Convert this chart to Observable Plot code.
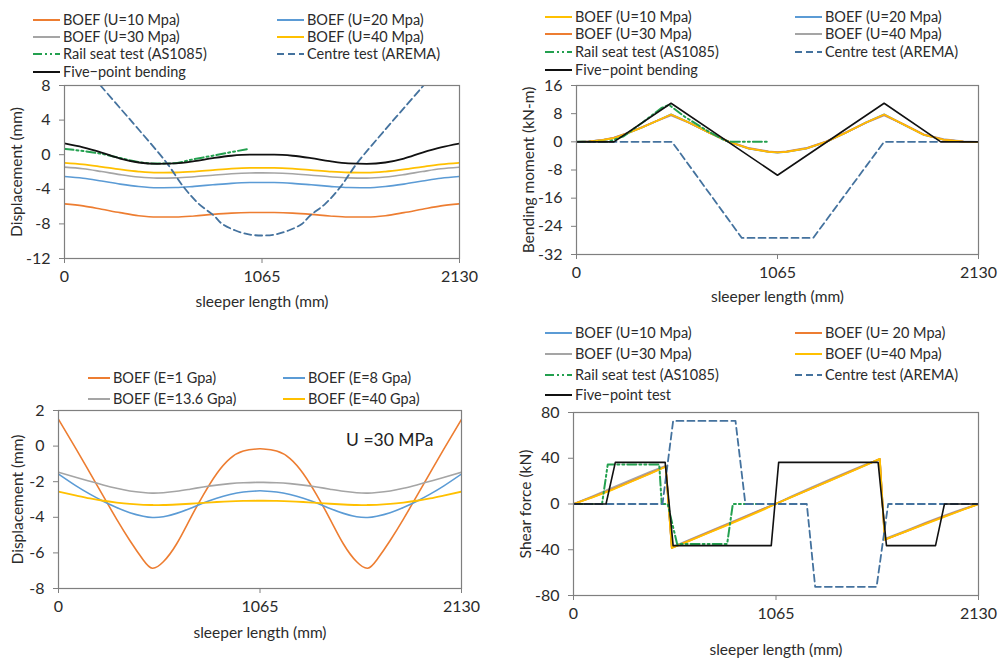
<!DOCTYPE html>
<html>
<head>
<meta charset="utf-8">
<script src="https://cdn.jsdelivr.net/npm/d3@7"></script>
<script src="https://cdn.jsdelivr.net/npm/@observablehq/plot@0.6"></script>
<style>
  html, body { margin: 0; padding: 0; background: #fff; }
  #root { position: relative; width: 998px; height: 659px; overflow: hidden; background: #fff; font-family: Lato, "Open Sans", sans-serif; }
  #root > svg, #root > figure { position: absolute; margin: 0; }
  .leg { position: absolute; display: flex; align-items: center; font-size: 14.5px; color: #2b2b2b; white-space: nowrap; line-height: 1; }
  .leg svg { display: block; margin-right: 3px; }
</style>
</head>
<body>
<div id="root"></div>
<script>
// ---------------- DATA ----------------
const xTicks = [0, 1065, 2130];
const xLabel = "sleeper length (mm)";

// Panel A: displacement
const aTicksY = [-12, -8, -4, 0, 4, 8];
const aX = [0,100,200,300,400,500,600,700,800,900,1000,1065,1130,1230,1330,1430,1530,1630,1730,1830,1930,2030,2130];
const aU10 = [-5.68,-5.92,-6.3,-6.7,-7.05,-7.2,-7.2,-7.08,-6.9,-6.76,-6.69,-6.68,-6.69,-6.76,-6.9,-7.08,-7.2,-7.2,-7.05,-6.7,-6.3,-5.92,-5.68];
const aU20 = [-2.52,-2.72,-3.05,-3.4,-3.68,-3.82,-3.8,-3.66,-3.48,-3.31,-3.22,-3.21,-3.22,-3.31,-3.48,-3.66,-3.8,-3.82,-3.68,-3.4,-3.05,-2.72,-2.52];
const aU30 = [-1.44,-1.63,-1.95,-2.3,-2.58,-2.71,-2.68,-2.55,-2.37,-2.2,-2.11,-2.1,-2.11,-2.2,-2.37,-2.55,-2.68,-2.71,-2.58,-2.3,-1.95,-1.63,-1.44];
const aU40 = [-0.94,-1.12,-1.4,-1.7,-1.95,-2.08,-2.06,-1.95,-1.78,-1.62,-1.53,-1.52,-1.53,-1.62,-1.78,-1.95,-2.06,-2.08,-1.95,-1.7,-1.4,-1.12,-0.94];
const aFive = [1.3,0.85,0.25,-0.45,-0.9,-1.05,-1.0,-0.75,-0.4,-0.12,0,0,0,-0.12,-0.4,-0.75,-1.0,-1.05,-0.9,-0.45,0.25,0.85,1.3];
const aRailX = [0,100,200,300,400,500,580,700,800,900,994];
const aRailY = [0.68,0.42,0.1,-0.38,-0.85,-1.03,-1.0,-0.51,-0.11,0.3,0.68];
const aCentreX = [194,300,400,553,643,724,805,850,922,994,1065,1136,1208,1280,1325,1406,1487,1577,1730,1830,1936];
const aCentreY = [8,5.38,2.91,-1.0,-3.75,-5.68,-7.03,-8.0,-8.76,-9.22,-9.34,-9.22,-8.76,-8.0,-7.03,-5.68,-3.75,-1.0,2.91,5.38,8];

// Panel B: bending moment
const bTicksY = [-32, -24, -16, -8, 0, 8, 16];
const bBoefX = [0,66,137,198,260,348,436,501,595,700,806,912,1017,1065,1113,1218,1324,1430,1535,1630,1733,1839,1944,2050,2130];
const bU10 = [0,0.1,0.48,1.05,2.19,4.1,6.19,7.8,5.52,2.67,0,-1.9,-2.86,-3.05,-2.86,-1.9,0,2.67,5.52,7.8,4.9,2.0,0.6,0.05,0];
const bU20 = [0,0.1,0.48,1.05,2.19,4.1,6.19,7.8,5.52,2.67,0,-1.9,-2.86,-3.05,-2.86,-1.9,0,2.67,5.52,7.8,4.9,2.0,0.6,0.05,0];
const bU30 = [0,0.1,0.5,1.1,2.25,4.15,6.2,7.7,5.5,2.7,0.05,-1.85,-2.8,-3.0,-2.8,-1.85,0.05,2.7,5.5,7.7,4.95,2.05,0.65,0.08,0];
const bU40 = [0,0.12,0.55,1.2,2.35,4.2,6.15,7.5,5.45,2.75,0.15,-1.75,-2.7,-2.9,-2.7,-1.75,0.15,2.75,5.45,7.5,5.0,2.15,0.75,0.12,0];
const bFiveX = [0,198,501,1065,1630,1930,2130];
const bFiveY = [0,0,10.95,-9.5,10.95,0,0];
const bRailX = [0,170,250,350,450,490,577,700,790,825,1008];
const bRailY = [0,0,1.6,5.5,9.6,10.5,7.0,2.9,0.3,0,0];
const bCentreX = [0,506,876,1254,1630,1926];
const bCentreY = [0,0,-27.3,-27.3,0,0];

// Panel C: displacement vs elastic modulus (U = 30 MPa)
const cTicksY = [-8, -6, -4, -2, 0, 2];
const cX = [0,95,166,236,307,377,448,496,554,624,695,765,836,906,977,1047,1065,1083,1153,1224,1294,1365,1435,1506,1576,1634,1682,1753,1823,1894,1964,2035,2130];
const cE1 = [1.5,-0.2,-1.5,-2.8,-4.1,-5.3,-6.4,-6.86,-6.5,-5.5,-4.1,-2.75,-1.55,-0.7,-0.28,-0.16,-0.15,-0.16,-0.28,-0.7,-1.55,-2.75,-4.1,-5.5,-6.5,-6.86,-6.4,-5.3,-4.1,-2.8,-1.5,-0.2,1.5];
const cE8 = [-1.57,-2.25,-2.7,-3.1,-3.45,-3.74,-3.94,-4.01,-3.97,-3.78,-3.5,-3.2,-2.93,-2.72,-2.58,-2.52,-2.51,-2.52,-2.58,-2.72,-2.93,-3.2,-3.5,-3.78,-3.97,-4.01,-3.94,-3.74,-3.45,-3.1,-2.7,-2.25,-1.57];
const cE136 = [-1.47,-1.76,-1.98,-2.18,-2.37,-2.52,-2.61,-2.64,-2.62,-2.54,-2.42,-2.3,-2.19,-2.11,-2.06,-2.04,-2.04,-2.04,-2.06,-2.11,-2.19,-2.3,-2.42,-2.54,-2.62,-2.64,-2.61,-2.52,-2.37,-2.18,-1.98,-1.76,-1.47];
const cE40 = [-2.56,-2.78,-2.94,-3.07,-3.17,-3.25,-3.3,-3.31,-3.31,-3.28,-3.24,-3.19,-3.14,-3.1,-3.08,-3.07,-3.07,-3.07,-3.08,-3.1,-3.14,-3.19,-3.24,-3.28,-3.31,-3.31,-3.3,-3.25,-3.17,-3.07,-2.94,-2.78,-2.56];
const cNote = "U =30 MPa";

// Panel D: shear force
const dTicksY = [-80, -40, 0, 40, 80];
const dBoefX = [0,100,200,300,400,485,517,600,700,800,900,1000,1062,1150,1250,1350,1450,1550,1611,1637,1750,1850,1950,2050,2130];
const dU10 = [0,6.3,13.0,20.0,27.0,33.0,-38.2,-32.4,-25.4,-18.4,-11.3,-4.2,0,6.5,13.7,20.9,28.1,35.2,39.2,-31.0,-23.7,-17.0,-10.6,-4.6,0];
const dU20 = [0,6.0,12.6,19.6,26.6,32.8,-38.5,-32.7,-25.7,-18.7,-11.6,-4.4,0,6.3,13.5,20.7,27.9,35.0,39.4,-31.1,-23.9,-17.2,-10.8,-4.8,0];
const dU30 = [0,6.8,14.0,21.0,27.8,33.4,-37.8,-32.0,-25.0,-18.0,-11.0,-4.0,0,7.0,14.3,21.5,28.6,35.6,38.9,-30.5,-23.2,-16.5,-10.2,-4.3,0];
const dU40 = [0,5.8,12.2,19.2,26.2,32.6,-38.5,-32.9,-26.0,-19.1,-12.1,-4.9,0,6.2,13.3,20.4,27.5,34.9,39.4,-31.1,-24.0,-17.6,-11.2,-5.0,0];
const dFiveX = [0,171,220,482,524,1040,1079,1602,1646,1904,1951,2130];
const dFiveY = [0,0,36.4,36.4,-36.4,-36.4,36.4,36.4,-36.4,-36.4,0,0];
const dRailX = [0,150,180,451,464,495,545,808,838,1000];
const dRailY = [0,0,34.5,34.5,0,0,-35,-35,0,0];
const dCentreX = [0,468,524,852,904,1227,1271,1594,1655,2130];
const dCentreY = [0,0,72.6,72.6,0,0,-72.4,-72.4,0,0];

// ---------------- STYLE ----------------
const C = {orange:"#ED7D31", blue:"#5B9BD5", gray:"#A5A5A5", yellow:"#FFC000", green:"#23A04F", dashBlue:"#44729E", black:"#111"};
const DASH = {rail:"9,3,2,3,2,3", centre:"7,4"};
const FONT = "Lato, 'Open Sans', sans-serif";
const root = document.getElementById("root");

const zip = (xs, ys) => xs.map((x, i) => ({x, y: ys[i]}));
const fmt = d => String(d);

function line(xs, ys, stroke, opts = {}) {
  return Plot.line(zip(xs, ys), {x: "x", y: "y", stroke, strokeWidth: opts.w ?? 1.8, strokeDasharray: opts.dash, curve: opts.curve ?? "linear", strokeLinejoin: "round", clip: true});
}

function panel({left, top, frame, ydomain, yticks, ylabel, marks, xLabelOffset, yLabelOffset}) {
  const [fl, fr, ft, fb] = frame;
  const marginLeft = fl - left, marginTop = ft - top, marginRight = 20, marginBottom = 64;
  const chart = Plot.plot({
    width: marginLeft + (fr - fl) + marginRight,
    height: marginTop + (fb - ft) + marginBottom,
    marginLeft, marginTop, marginRight, marginBottom,
    style: {fontFamily: FONT, fontSize: "15.5px", color: "#2b2b2b", background: "transparent", overflow: "visible"},
    x: {domain: [0, 2130]},
    y: {domain: ydomain},
    marks: [
      ...marks,
      Plot.frame({stroke: "#7f7f7f", strokeWidth: 1.2}),
      Plot.axisX({ticks: xTicks, tickFormat: fmt, tickSize: 5, tickPadding: 7, stroke: "#7f7f7f", fontSize: 16, label: null}),
      Plot.axisX({ticks: [], label: xLabel, labelAnchor: "center", labelArrow: "none", labelOffset: xLabelOffset, fontSize: 15.5}),
      Plot.axisY({ticks: yticks, tickFormat: fmt, tickSize: 5, tickPadding: 9, stroke: "#7f7f7f", fontSize: 16, label: null}),
      Plot.axisY({ticks: [], label: ylabel, labelAnchor: "center", labelArrow: "none", labelOffset: yLabelOffset, fontSize: 15.5})
    ]
  });
  chart.style.left = left + "px";
  chart.style.top = top + "px";
  chart.style.position = "absolute";
  root.appendChild(chart);
}

function legend(items) {
  for (const it of items) {
    const d = document.createElement("div");
    d.className = "leg";
    d.style.left = it.x + "px";
    d.style.top = (it.y - 9) + "px";
    d.style.height = "18px";
    const w = it.sw ?? 27;
    d.innerHTML = `<svg width="${w}" height="10"><line x1="0" x2="${w}" y1="5" y2="5" stroke="${it.color}" stroke-width="2" ${it.dash ? `stroke-dasharray="${it.dash}"` : ""}/></svg><span>${it.label}</span>`;
    root.appendChild(d);
  }
}

// ---------------- PANEL A ----------------
panel({
  left: 0, top: 78, frame: [64, 459, 85, 258], ydomain: [-12, 8], yticks: aTicksY,
  ylabel: "Displacement (mm)", xLabelOffset: 48, yLabelOffset: 54,
  marks: [
    line(aX, aU10, C.orange, {curve: "monotone-x", w: 1.6}),
    line(aX, aU20, C.blue, {curve: "monotone-x", w: 1.6}),
    line(aX, aU30, C.gray, {curve: "monotone-x", w: 1.6}),
    line(aX, aU40, C.yellow, {curve: "monotone-x", w: 1.8}),
    line(aRailX, aRailY, C.green, {curve: "monotone-x", w: 2, dash: DASH.rail}),
    line(aCentreX, aCentreY, C.dashBlue, {curve: "catmull-rom", w: 1.8, dash: DASH.centre}),
    line(aX, aFive, C.black, {curve: "monotone-x", w: 1.8})
  ]
});
legend([
  {x: 33, y: 20, color: C.orange, label: "BOEF (U=10 Mpa)"},
  {x: 277, y: 20, color: C.blue, label: "BOEF (U=20 Mpa)"},
  {x: 33, y: 37, color: C.gray, label: "BOEF (U=30 Mpa)"},
  {x: 277, y: 37, color: C.yellow, label: "BOEF (U=40 Mpa)"},
  {x: 33, y: 54, color: C.green, label: "Rail seat test (AS1085)", dash: DASH.rail},
  {x: 277, y: 54, color: C.dashBlue, label: "Centre test (AREMA)", dash: DASH.centre},
  {x: 33, y: 72, color: C.black, label: "Five−point bending"}
]);

// ---------------- PANEL B ----------------
panel({
  left: 500, top: 78, frame: [576, 978, 85, 254], ydomain: [-32, 16], yticks: bTicksY,
  ylabel: "Bending moment (kN-m)", xLabelOffset: 47, yLabelOffset: 54,
  marks: [
    line(bBoefX, bU20, C.blue, {w: 1.8}),
    line(bBoefX, bU40, C.gray, {w: 1.8}),
    line(bBoefX, bU30, C.orange, {w: 1.8}),
    line(bBoefX, bU10, C.yellow, {w: 1.6}),
    line(bRailX, bRailY, C.green, {w: 2, dash: DASH.rail}),
    line(bCentreX, bCentreY, C.dashBlue, {w: 1.8, dash: DASH.centre}),
    line(bFiveX, bFiveY, C.black, {w: 1.6})
  ]
});
legend([
  {x: 545, y: 17, color: C.yellow, label: "BOEF (U=10 Mpa)"},
  {x: 795, y: 17, color: C.blue, label: "BOEF (U=20 Mpa)"},
  {x: 545, y: 34, color: C.orange, label: "BOEF (U=30 Mpa)"},
  {x: 795, y: 34, color: C.gray, label: "BOEF (U=40 Mpa)"},
  {x: 545, y: 52, color: C.green, label: "Rail seat test (AS1085)", dash: DASH.rail},
  {x: 795, y: 52, color: C.dashBlue, label: "Centre test (AREMA)", dash: DASH.centre},
  {x: 545, y: 70, color: C.black, label: "Five−point bending"}
]);

// ---------------- PANEL C ----------------
panel({
  left: 0, top: 402, frame: [58, 461, 410, 588], ydomain: [-8, 2], yticks: cTicksY,
  ylabel: "Displacement (mm)", xLabelOffset: 49, yLabelOffset: 47,
  marks: [
    line(cX, cE1, C.orange, {curve: "natural", w: 1.6}),
    line(cX, cE8, C.blue, {curve: "natural", w: 1.6}),
    line(cX, cE136, C.gray, {curve: "natural", w: 1.6}),
    line(cX, cE40, C.yellow, {curve: "natural", w: 1.8}),
    Plot.text([cNote], {frameAnchor: "top-right", textAnchor: "end", lineAnchor: "middle", dx: -28, dy: 30, fontSize: 17.5, fill: "#222", fontFamily: FONT})
  ]
});
legend([
  {x: 88, y: 378, color: C.orange, label: "BOEF (E=1 Gpa)", sw: 22},
  {x: 283, y: 378, color: C.blue, label: "BOEF (E=8 Gpa)", sw: 22},
  {x: 88, y: 399, color: C.gray, label: "BOEF (E=13.6 Gpa)", sw: 22},
  {x: 283, y: 399, color: C.yellow, label: "BOEF (E=40 Gpa)", sw: 22}
]);

// ---------------- PANEL D ----------------
panel({
  left: 500, top: 404, frame: [573, 978, 412, 595], ydomain: [-80, 80], yticks: dTicksY,
  ylabel: "Shear force (kN)", xLabelOffset: 59, yLabelOffset: 54,
  marks: [
    line(dBoefX, dU10, C.blue, {w: 1.6}),
    line(dBoefX, dU30, C.gray, {w: 1.8}),
    line(dBoefX, dU20, C.orange, {w: 1.8}),
    line(dBoefX, dU40, C.yellow, {w: 1.8}),
    line(dRailX, dRailY, C.green, {w: 2, dash: DASH.rail}),
    line(dCentreX, dCentreY, C.dashBlue, {w: 1.8, dash: DASH.centre}),
    line(dFiveX, dFiveY, C.black, {w: 1.6})
  ]
});
legend([
  {x: 545, y: 333, color: C.blue, label: "BOEF (U=10 Mpa)"},
  {x: 795, y: 333, color: C.orange, label: "BOEF (U= 20 Mpa)"},
  {x: 545, y: 354, color: C.gray, label: "BOEF (U=30 Mpa)"},
  {x: 795, y: 354, color: C.yellow, label: "BOEF (U=40 Mpa)"},
  {x: 545, y: 375, color: C.green, label: "Rail seat test (AS1085)", dash: DASH.rail},
  {x: 795, y: 375, color: C.dashBlue, label: "Centre test (AREMA)", dash: DASH.centre},
  {x: 545, y: 395, color: C.black, label: "Five−point test"}
]);
</script>
</body>
</html>
